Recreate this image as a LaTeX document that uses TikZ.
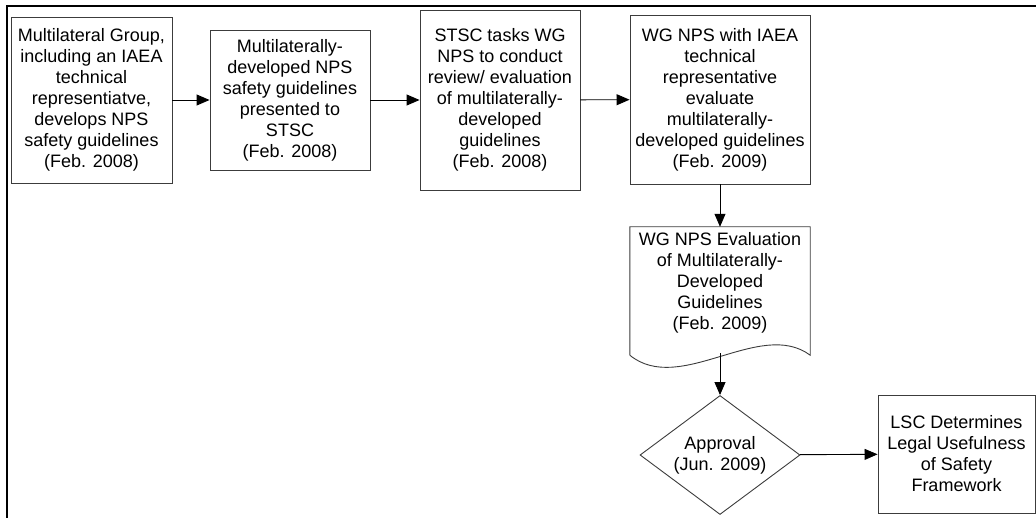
\documentclass[tikz,border=0pt]{standalone}
\usepackage{fontspec}
\setmainfont{Liberation Sans}
\usepackage{xcolor}
\usepackage{tikz}
\usetikzlibrary{arrows.meta,shapes.geometric}
\definecolor{boxgray}{HTML}{3C3C3C}

\begin{document}
\begin{tikzpicture}[
  x=1pt,y=-1pt,
  font=\fontsize{18}{21}\selectfont,
  box/.style={draw=boxgray,line width=0.9pt,align=center,inner sep=2pt},
  decision/.style={diamond,draw=boxgray,line width=0.9pt,align=center,inner sep=0pt,
                   aspect=1.34,minimum width=160,minimum height=119},
  arr/.style={-{Triangle[length=13pt,width=11pt]},line width=0.9pt,draw=black}
]
\useasboundingbox (0,0) rectangle (1036,518);
\draw[line width=2pt] (7,518) |- (1036,6);
\node[box,minimum width=161,minimum height=166] (grp)  at (91.5,100) {Multilateral Group,\\including an IAEA\\technical\\representiatve,\\develops NPS\\safety guidelines\\(Feb. 2008)};
\node[box,minimum width=160,minimum height=140] (pres) at (290,100)  {Multilaterally-\\developed NPS\\safety guidelines\\presented to\\STSC\\(Feb. 2008)};
\node[box,minimum width=160,minimum height=180] (task) at (500,100)  {STSC tasks WG\\NPS to conduct\\review/ evaluation\\of multilaterally-\\developed\\guidelines\\(Feb. 2008)};
\node[box,minimum width=180,minimum height=169] (eval) at (720,99.5) {WG NPS with IAEA\\technical\\representative\\evaluate\\multilaterally-\\developed guidelines\\(Feb. 2009)};
% document shape with wavy bottom
\node[inner sep=0pt,minimum width=180,minimum height=128] (doc) at (720,291) {};
\draw[draw=boxgray,line width=0.9pt] (doc.south west) -- (doc.north west) -- (doc.north east) -- (doc.south east)
  .. controls (760,318) and (680,396) .. (doc.south west);
\node[align=center,inner sep=0pt] (doctext) at (720,283) {WG NPS Evaluation\\of Multilaterally-\\Developed\\Guidelines\\(Feb. 2009)};
\node[decision] (appr) at (720,455) {Approval\\(Jun. 2009)};
\node[box,minimum width=157,minimum height=118] (lsc) at (956.5,454) {LSC Determines\\Legal Usefulness\\of Safety\\Framework};
\draw[arr] (grp)--(pres); \draw[arr] (pres)--(task); \draw[arr] (task)--(eval);
\draw[arr] (eval)--(doc); \draw[arr] ([yshift=2]doc.south)--(appr); \draw[arr] (appr)--(lsc);
\end{tikzpicture}
\end{document}
